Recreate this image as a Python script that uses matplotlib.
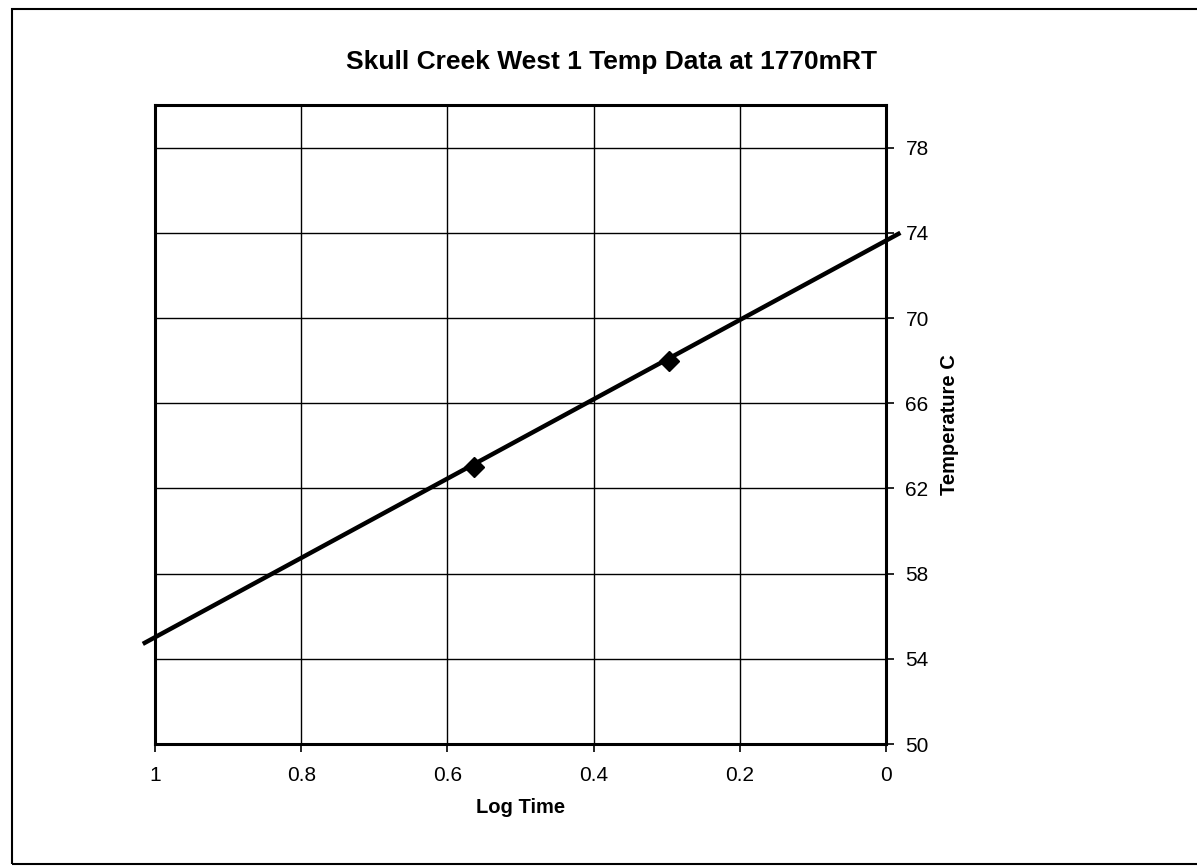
import matplotlib.pyplot as plt
from matplotlib.patches import Rectangle

plt.rcParams['font.family'] = ['Liberation Sans', 'DejaVu Sans']

# datos
log_time = [0.564, 0.297]
temp_c = [63.0, 68.0]

# linea de tendencia (extremos leidos)
trend_x = [1.014, -0.017]
trend_y = [54.75, 73.95]

x_ticks = [1, 0.8, 0.6, 0.4, 0.2, 0]
x_labels = ['1', '0.8', '0.6', '0.4', '0.2', '0']
y_ticks = [50, 54, 58, 62, 66, 70, 74, 78]

fig = plt.figure(figsize=(11.97, 8.66), dpi=100)
ax = fig.add_axes([155 / 1197, 1 - 744 / 866, (886 - 155) / 1197, (744 - 105) / 866])

# marco exterior
fig.patches.append(Rectangle((12 / 1197, 1 - 864 / 866), 1.2, (864 - 9) / 866,
                             transform=fig.transFigure, fill=False,
                             edgecolor='black', linewidth=1.5))

ax.plot(trend_x, trend_y, color='black', linewidth=3.2, clip_on=False, zorder=3)
ax.plot(log_time, temp_c, linestyle='none', marker='D', markersize=10,
        color='black', zorder=4)

ax.set_xlim(1, 0)
ax.set_ylim(50, 80)
ax.set_xticks(x_ticks)
ax.set_xticklabels(x_labels)
ax.set_yticks(y_ticks)
ax.yaxis.tick_right()
ax.yaxis.set_label_position('right')
ax.grid(True, color='black', linewidth=1.0)
ax.set_axisbelow(True)
for s in ax.spines.values():
    s.set_linewidth(2.2)
ax.tick_params(axis='both', direction='out', length=6, width=1.2,
               labelsize=15, pad=8, colors='black')
ax.tick_params(axis='x', pad=10)

ax.set_xlabel('Log Time', fontsize=14.5, fontweight='bold', labelpad=9)
ax.set_ylabel('Temperature C', fontsize=14.5, fontweight='bold', labelpad=8)
fig.text(611 / 1197, 1 - 62 / 866, 'Skull Creek West 1 Temp Data at 1770mRT',
         ha='center', va='center', fontsize=19, fontweight='bold')

fig.savefig('out.png', dpi=100)
